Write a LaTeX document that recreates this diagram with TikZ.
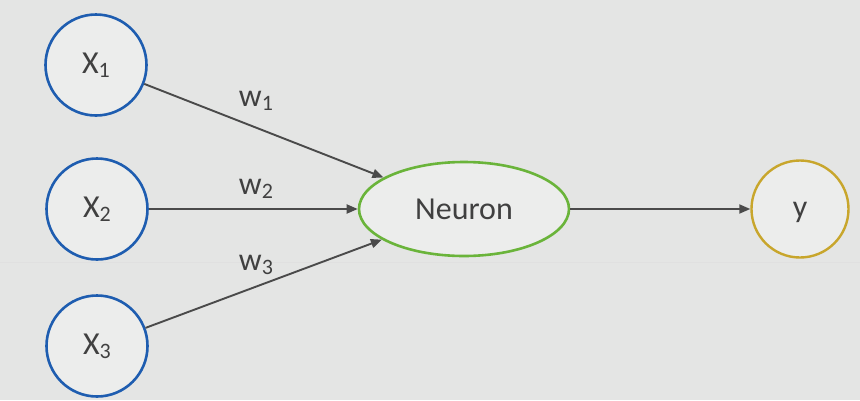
\documentclass[tikz,border=0pt]{standalone}
\usepackage{fontspec}
\setmainfont{Carlito}
\usetikzlibrary{shapes.geometric,arrows.meta}
\definecolor{bg}{HTML}{E4E5E4}
\definecolor{nodefill}{HTML}{ECEDEC}
\definecolor{bluec}{HTML}{1E5DB0}
\definecolor{greenc}{HTML}{6AB43A}
\definecolor{yellowc}{HTML}{C8A62C}
\definecolor{linec}{HTML}{4A4A4A}
\definecolor{textc}{HTML}{404040}
\newcommand{\sbs}[1]{{\fontsize{22}{22}\selectfont\raisebox{-4pt}{#1}}}
\tikzset{
  inp/.style={circle, draw=bluec, line width=2.6pt, fill=nodefill, minimum size=101pt, inner sep=0pt, text=textc, font=\fontsize{32}{32}\selectfont},
  outp/.style={circle, draw=yellowc, line width=2.4pt, fill=nodefill, minimum size=97pt, inner sep=0pt, text=textc, font=\fontsize{32}{32}\selectfont, text height=16pt, text depth=0pt},
  neur/.style={ellipse, draw=greenc, line width=2.6pt, fill=nodefill, minimum width=210pt, minimum height=94pt, inner sep=0pt, text=textc, font=\fontsize{32}{32}\selectfont},
  conn/.style={draw=linec, line width=1.9pt, -{Triangle[length=11pt,width=9pt]}},
  wlab/.style={text=textc, font=\fontsize{32}{32}\selectfont, inner sep=0pt}
}
\begin{document}
\begin{tikzpicture}[x=1pt,y=-1pt]
\fill[bg] (0,0) rectangle (860,400);
\useasboundingbox (0,0) rectangle (860,400);
\draw[white!88!black, line width=0.6pt] (0,262) -- (860,262);
\node[inp] (x1) at (96,65) {X\sbs{1}};
\node[inp] (x2) at (97,209) {X\sbs{2}};
\node[inp] (x3) at (97,346) {X\sbs{3}};
\node[neur] (n) at (464,209) {Neuron};
\node[outp] (y) at (800,209) {y};
\draw[conn] (x1) -- (n);
\draw[conn] (x2) -- (n);
\draw[conn] (x3) -- (n);
\draw[conn] (n) -- (y);
\node[wlab] (w1) at (256,101) {w\sbs{1}};
\node[wlab] (w2) at (256,189) {w\sbs{2}};
\node[wlab] (w3) at (256,265) {w\sbs{3}};
\end{tikzpicture}
\end{document}
